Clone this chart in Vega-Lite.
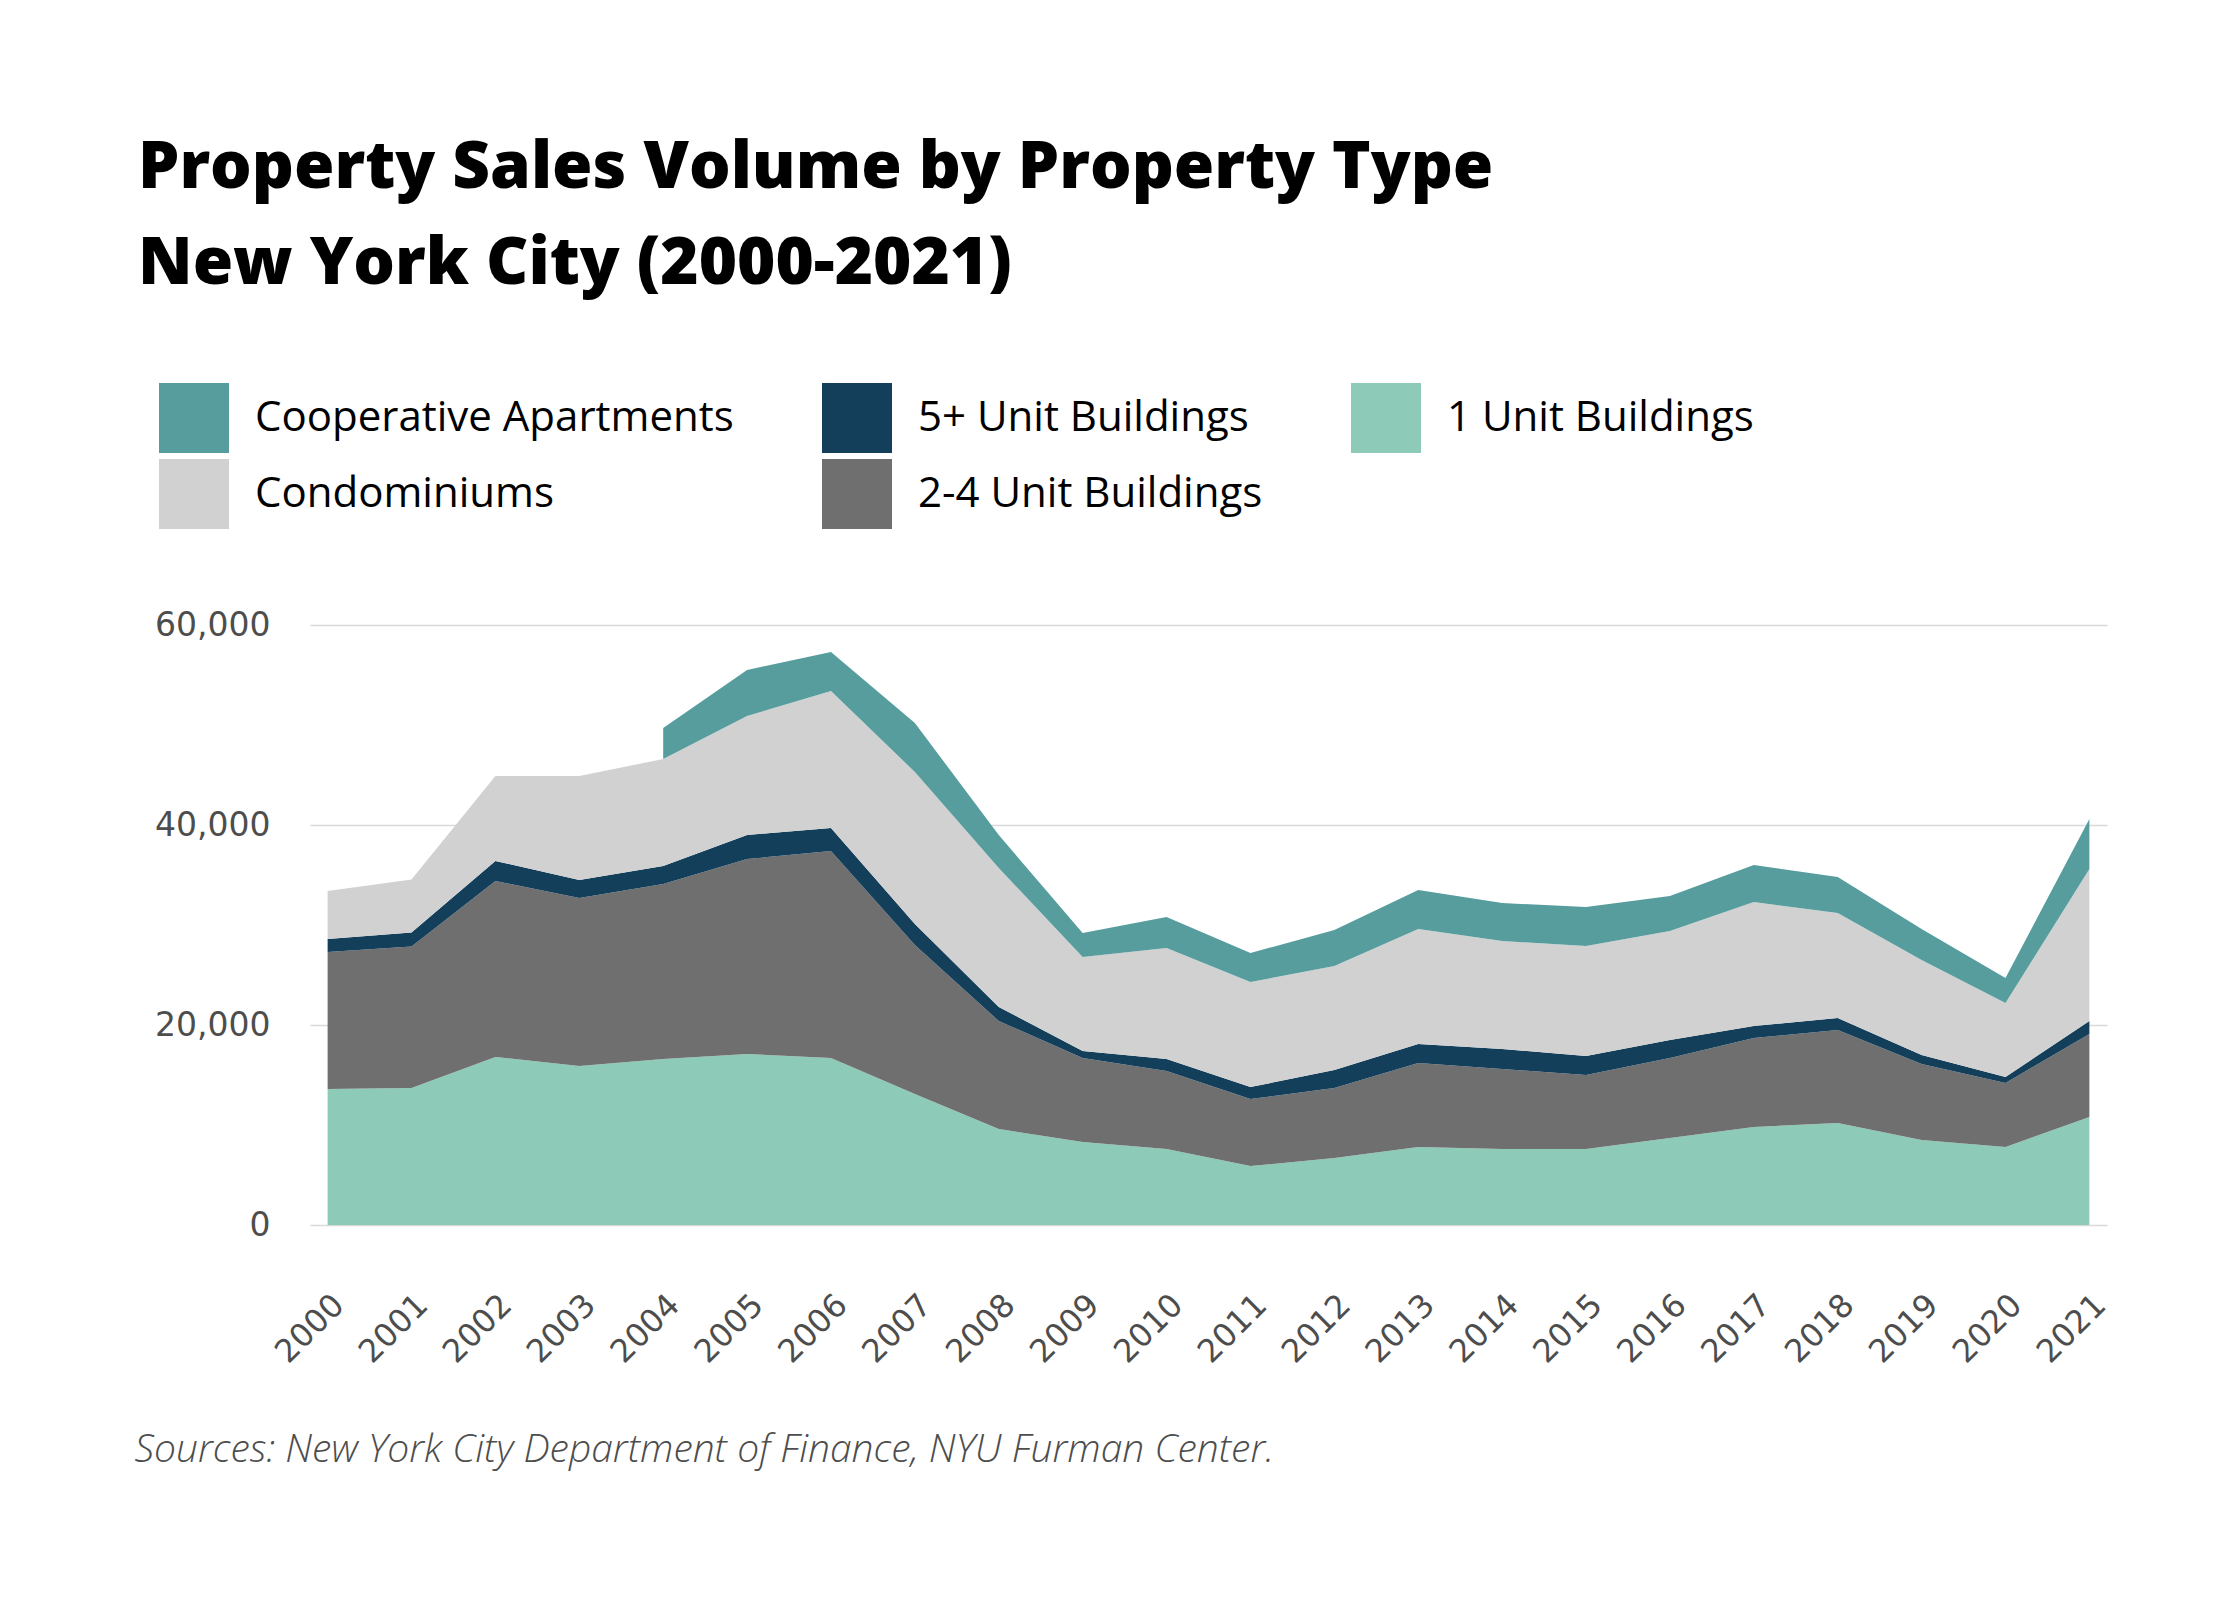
{
  "$schema": "https://vega.github.io/schema/vega-lite/v6.json",
  "autosize": {"type": "none"},
  "padding": {"left": 310, "top": 625, "right": 133, "bottom": 375},
  "width": 1797,
  "height": 600,
  "background": "white",
  "title": {
    "text": ["Property Sales Volume by Property Type", "New York City (2000-2021)"],
    "anchor": "start",
    "frame": "group",
    "dx": -172,
    "font": "Open Sans",
    "fontWeight": 800,
    "fontSize": 65.5,
    "lineHeight": 96,
    "color": "black",
    "offset": 86
  },
  "data": {
    "values": [
      {"year": 2000, "1 Unit Buildings": 13600, "2-4 Unit Buildings": 13700, "5+ Unit Buildings": 1300, "Condominiums": 4800, "Cooperative Apartments": null},
      {"year": 2001, "1 Unit Buildings": 13700, "2-4 Unit Buildings": 14150, "5+ Unit Buildings": 1400, "Condominiums": 5300, "Cooperative Apartments": null},
      {"year": 2002, "1 Unit Buildings": 16800, "2-4 Unit Buildings": 17600, "5+ Unit Buildings": 2000, "Condominiums": 8500, "Cooperative Apartments": null},
      {"year": 2003, "1 Unit Buildings": 15900, "2-4 Unit Buildings": 16800, "5+ Unit Buildings": 1800, "Condominiums": 10400, "Cooperative Apartments": null},
      {"year": 2004, "1 Unit Buildings": 16600, "2-4 Unit Buildings": 17500, "5+ Unit Buildings": 1800, "Condominiums": 10700, "Cooperative Apartments": 3100},
      {"year": 2005, "1 Unit Buildings": 17100, "2-4 Unit Buildings": 19500, "5+ Unit Buildings": 2400, "Condominiums": 11900, "Cooperative Apartments": 4600},
      {"year": 2006, "1 Unit Buildings": 16700, "2-4 Unit Buildings": 20700, "5+ Unit Buildings": 2300, "Condominiums": 13700, "Cooperative Apartments": 3900},
      {"year": 2007, "1 Unit Buildings": 13100, "2-4 Unit Buildings": 14900, "5+ Unit Buildings": 2100, "Condominiums": 15200, "Cooperative Apartments": 4900},
      {"year": 2008, "1 Unit Buildings": 9600, "2-4 Unit Buildings": 10800, "5+ Unit Buildings": 1400, "Condominiums": 13900, "Cooperative Apartments": 3300},
      {"year": 2009, "1 Unit Buildings": 8300, "2-4 Unit Buildings": 8400, "5+ Unit Buildings": 700, "Condominiums": 9400, "Cooperative Apartments": 2400},
      {"year": 2010, "1 Unit Buildings": 7600, "2-4 Unit Buildings": 7800, "5+ Unit Buildings": 1200, "Condominiums": 11100, "Cooperative Apartments": 3100},
      {"year": 2011, "1 Unit Buildings": 5900, "2-4 Unit Buildings": 6700, "5+ Unit Buildings": 1200, "Condominiums": 10500, "Cooperative Apartments": 2900},
      {"year": 2012, "1 Unit Buildings": 6700, "2-4 Unit Buildings": 7000, "5+ Unit Buildings": 1800, "Condominiums": 10400, "Cooperative Apartments": 3600},
      {"year": 2013, "1 Unit Buildings": 7800, "2-4 Unit Buildings": 8400, "5+ Unit Buildings": 1900, "Condominiums": 11500, "Cooperative Apartments": 3900},
      {"year": 2014, "1 Unit Buildings": 7600, "2-4 Unit Buildings": 8000, "5+ Unit Buildings": 2000, "Condominiums": 10800, "Cooperative Apartments": 3800},
      {"year": 2015, "1 Unit Buildings": 7600, "2-4 Unit Buildings": 7400, "5+ Unit Buildings": 1900, "Condominiums": 11000, "Cooperative Apartments": 3900},
      {"year": 2016, "1 Unit Buildings": 8700, "2-4 Unit Buildings": 8000, "5+ Unit Buildings": 1800, "Condominiums": 10900, "Cooperative Apartments": 3500},
      {"year": 2017, "1 Unit Buildings": 9800, "2-4 Unit Buildings": 8900, "5+ Unit Buildings": 1200, "Condominiums": 12400, "Cooperative Apartments": 3700},
      {"year": 2018, "1 Unit Buildings": 10200, "2-4 Unit Buildings": 9300, "5+ Unit Buildings": 1200, "Condominiums": 10500, "Cooperative Apartments": 3600},
      {"year": 2019, "1 Unit Buildings": 8500, "2-4 Unit Buildings": 7600, "5+ Unit Buildings": 900, "Condominiums": 9500, "Cooperative Apartments": 3100},
      {"year": 2020, "1 Unit Buildings": 7800, "2-4 Unit Buildings": 6400, "5+ Unit Buildings": 600, "Condominiums": 7400, "Cooperative Apartments": 2500},
      {"year": 2021, "1 Unit Buildings": 10800, "2-4 Unit Buildings": 8300, "5+ Unit Buildings": 1300, "Condominiums": 15200, "Cooperative Apartments": 5000}
    ]
  },
  "transform": [
    {"fold": ["1 Unit Buildings", "2-4 Unit Buildings", "5+ Unit Buildings", "Condominiums", "Cooperative Apartments"], "as": ["type", "sales"]}
  ],
  "mark": {"type": "area", "interpolate": "linear"},
  "encoding": {
    "x": {
      "field": "year",
      "type": "ordinal",
      "scale": {"type": "point", "padding": 0.21},
      "axis": {
        "title": "Sources: New York City Department of Finance, NYU Furman Center.",
        "titleFont": "Open Sans",
        "titleFontStyle": "italic",
        "titleFontWeight": 300,
        "titleFontSize": 39,
        "titleColor": "#4d4d4d",
        "titleAnchor": "start",
        "titleAlign": "left",
        "titleBaseline": "alphabetic",
        "titleX": -176,
        "titleY": 236,
        "labelAngle": -45,
        "labelFont": "DejaVu Sans",
        "labelFontSize": 32,
        "labelColor": "#4d4d4d",
        "labelPadding": 64,
        "ticks": false,
        "domain": false,
        "grid": false
      }
    },
    "y": {
      "field": "sales",
      "type": "quantitative",
      "stack": "zero",
      "scale": {"domain": [0, 60000], "nice": false},
      "axis": {
        "title": null,
        "values": [0, 20000, 40000, 60000],
        "format": ",.0f",
        "labelFont": "DejaVu Sans",
        "labelFontSize": 33,
        "labelColor": "#4d4d4d",
        "labelPadding": 40,
        "ticks": false,
        "domain": false,
        "grid": true,
        "gridColor": "#d9d9d9",
        "gridWidth": 1.5
      }
    },
    "color": {
      "field": "type",
      "type": "nominal",
      "scale": {
        "domain": ["Cooperative Apartments", "5+ Unit Buildings", "1 Unit Buildings", "Condominiums", "2-4 Unit Buildings"],
        "range": ["#579d9e", "#143f5b", "#8ecab8", "#d1d1d1", "#6f6f6f"]
      },
      "legend": {
        "orient": "none",
        "legendX": -151,
        "legendY": -242,
        "direction": "horizontal",
        "columns": 3,
        "title": null,
        "symbolType": "square",
        "symbolSize": 4900,
        "symbolStrokeWidth": 0,
        "symbolOpacity": 1,
        "labelFont": "Open Sans",
        "labelFontSize": 42,
        "labelColor": "black",
        "labelOffset": 26,
        "labelLimit": 0,
        "rowPadding": 6,
        "columnPadding": 88,
        "padding": 0
      }
    },
    "order": {"field": "type", "sort": "ascending"}
  },
  "config": {"view": {"stroke": null}}
}
